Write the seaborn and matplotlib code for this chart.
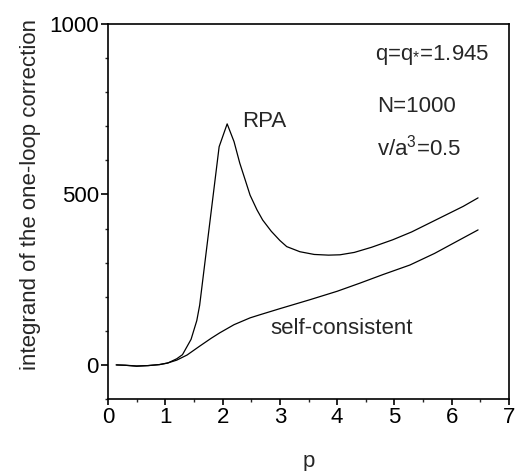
import matplotlib
matplotlib.use("Agg")
import matplotlib.pyplot as plt
import seaborn as sns
import pandas as pd
from matplotlib.ticker import MultipleLocator

# RPA integrand vs p
p_rpa = [0.15, 0.3, 0.5, 0.7, 0.9, 1.05, 1.2, 1.3, 1.45, 1.55, 1.6, 1.94, 2.08,
         2.2, 2.3, 2.4, 2.48, 2.6, 2.7, 2.85, 3.0, 3.12, 3.35, 3.6, 3.85, 4.05,
         4.3, 4.6, 4.97, 5.3, 5.6, 5.9, 6.2, 6.46]
v_rpa = [0, -1, -4, -2, 1, 6, 18, 30, 75, 130, 175, 640, 707,
         655, 592, 540, 498, 455, 425, 392, 365, 347, 332, 324, 322, 323,
         330, 345, 367, 390, 415, 440, 465, 490]

# self-consistent integrand vs p
p_sc = [0.14, 0.3, 0.5, 0.7, 0.9, 1.03, 1.2, 1.38, 1.6, 1.8, 1.95, 2.2, 2.48,
        2.65, 3.0, 3.52, 4.0, 4.4, 4.8, 5.27, 5.7, 6.14, 6.46]
v_sc = [0, -1, -3, -2, 1, 5, 14, 29, 55, 78, 94, 118, 138,
        147, 165, 191, 216, 240, 265, 293, 327, 367, 396]

x_ticks = [0, 1, 2, 3, 4, 5, 6, 7]
y_ticks = [0, 500, 1000]

sns.set_theme(style="ticks")
plt.rcParams["font.family"] = ["Liberation Sans", "DejaVu Sans"]
plt.rcParams["mathtext.fontset"] = "custom"
plt.rcParams["mathtext.rm"] = "Liberation Sans"
plt.rcParams["mathtext.it"] = "Liberation Sans"

FS = 16

fig = plt.figure(figsize=(5.15, 4.71), dpi=100)
ax = fig.add_axes([108 / 515, 72 / 471, (509 - 108) / 515, (399 - 24) / 471])

df_rpa = pd.DataFrame({"p": p_rpa, "v": v_rpa})
df_sc = pd.DataFrame({"p": p_sc, "v": v_sc})
sns.lineplot(data=df_rpa, x="p", y="v", ax=ax, color="black", lw=0.9)
sns.lineplot(data=df_sc, x="p", y="v", ax=ax, color="black", lw=0.9)

ax.set_xlim(0, 7)
ax.set_ylim(-100, 1000)
ax.set_xticks(x_ticks)
ax.set_yticks(y_ticks)
ax.xaxis.set_minor_locator(MultipleLocator(0.5))
ax.yaxis.set_minor_locator(MultipleLocator(100))
ax.tick_params(axis="both", which="major", direction="out", width=1.2,
               labelsize=FS, colors="black", pad=1.5)
ax.tick_params(axis="y", which="major", length=5)
ax.tick_params(axis="x", which="major", length=4)
ax.tick_params(axis="both", which="minor", direction="out", length=2.5, width=1.0)
for s in ax.spines.values():
    s.set_color("black")
    s.set_linewidth(1.2)

ax.set_xlabel("p", fontsize=FS, labelpad=17)
ax.set_ylabel("integrand of the one-loop correction", fontsize=FS)
ax.yaxis.set_label_coords(-0.166, 0.545)

ax.text(2.34, 713, "RPA", fontsize=FS, va="center", ha="left")
ax.text(4.66, 909, "q=q$_{*}$=1.945", fontsize=FS, va="center", ha="left")
ax.text(4.70, 757, "N=1000", fontsize=FS, va="center", ha="left")
ax.text(4.70, 639, "v/a$^{3}$=0.5", fontsize=FS, va="center", ha="left")
ax.text(2.83, 108, "self-consistent", fontsize=FS, va="center", ha="left")

fig.savefig("out.png", dpi=100, facecolor="white")
